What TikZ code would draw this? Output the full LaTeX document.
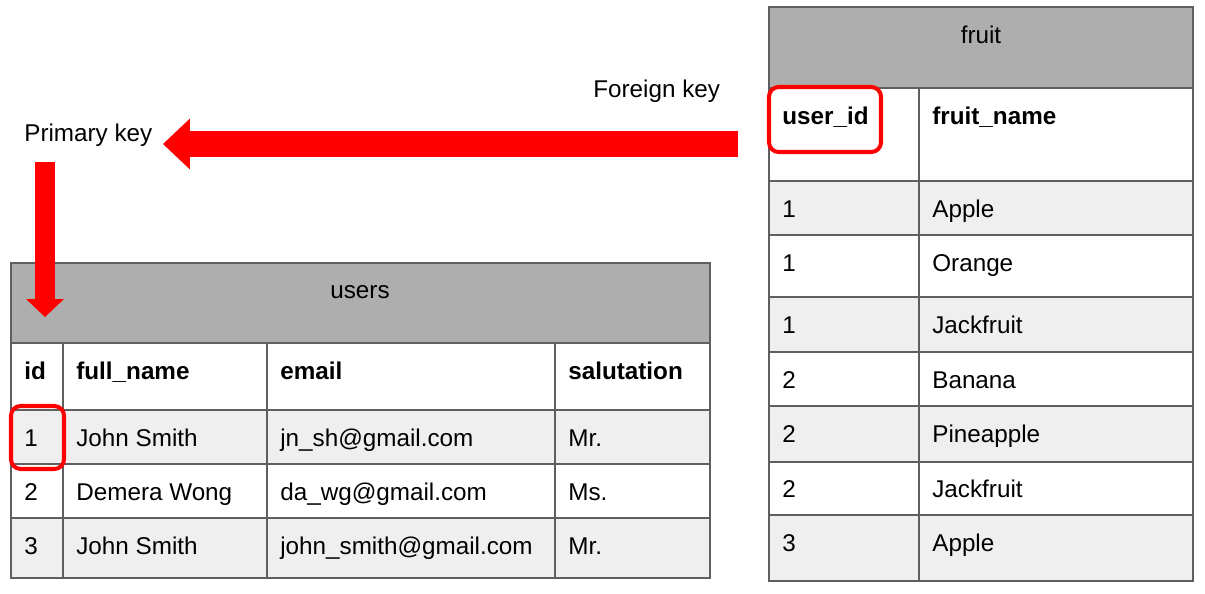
\documentclass[tikz,border=0pt]{standalone}
\usepackage{fontspec}
\setmainfont{Liberation Sans}
\usepackage{tikz}
\usetikzlibrary{arrows.meta,positioning}
\definecolor{hdrgray}{RGB}{174,174,174}
\definecolor{rowgray}{RGB}{239,239,239}
\definecolor{gridgray}{RGB}{95,95,95}
\definecolor{keyred}{RGB}{255,0,0}

\begin{document}
\begin{tikzpicture}[
    x=0.02cm, y=-0.02cm,
    txt/.style={anchor=base west, inner sep=0pt, font=\fontsize{13.8pt}{16pt}\selectfont},
    colhead/.style={txt, font=\fontsize{13.8pt}{16pt}\selectfont\bfseries},
    tabletitle/.style={txt, anchor=base},
    gridline/.style={draw=gridgray, line width=0.9pt},
    keybox/.style={draw=keyred, line width=2.3pt, rounded corners=5.5pt},
    bigarrow/.style={draw=keyred, line width=#1}
]
    \useasboundingbox (0,0) rectangle (1205,593);

    % Users Table
    \fill[hdrgray] (11,263) rectangle (710,343);
    \fill[rowgray] (11,410) rectangle (710,464);
    \fill[rowgray] (11,518) rectangle (710,578);
    \draw[gridline] (11,263) rectangle (710,578);
    \draw[gridline] (11,343) -- (710,343) (11,410) -- (710,410)
                    (11,464) -- (710,464) (11,518) -- (710,518);
    \draw[gridline] (63,343) -- (63,578) (267,343) -- (267,578) (555,343) -- (555,578);

    \node[tabletitle] (usersTitle) at (360,298) {users};
    \node[colhead] (uId) at (24,379) {id};
    \node[colhead] (uName) at (76,379) {full\_name};
    \node[colhead] (uMail) at (280,379) {email};
    \node[colhead] (uSal) at (568,379) {salutation};

    \node[txt] (uId1) at (24,446) {1};
    \node[txt] (uName1) at (76,446) {John Smith};
    \node[txt] (uMail1) at (280,446) {jn\_sh@gmail.com};
    \node[txt] (uSal1) at (568,446) {Mr.};

    \node[txt] (uId2) at (24,500) {2};
    \node[txt] (uName2) at (76,500) {Demera Wong};
    \node[txt] (uMail2) at (280,500) {da\_wg@gmail.com};
    \node[txt] (uSal2) at (568,500) {Ms.};

    \node[txt] (uId3) at (24,554) {3};
    \node[txt] (uName3) at (76,554) {John Smith};
    \node[txt] (uMail3) at (280,554) {john\_smith@gmail.com};
    \node[txt] (uSal3) at (568,554) {Mr.};

    % Fruit Table
    \fill[hdrgray] (769,7) rectangle (1193,88);
    \fill[rowgray] (769,181) rectangle (1193,235);
    \fill[rowgray] (769,297) rectangle (1193,352);
    \fill[rowgray] (769,406) rectangle (1193,462);
    \fill[rowgray] (769,515) rectangle (1193,581);
    \draw[gridline] (769,7) rectangle (1193,581);
    \draw[gridline] (769,88) -- (1193,88) (769,181) -- (1193,181)
                    (769,235) -- (1193,235) (769,297) -- (1193,297)
                    (769,352) -- (1193,352) (769,406) -- (1193,406)
                    (769,462) -- (1193,462) (769,515) -- (1193,515);
    \draw[gridline] (919,88) -- (919,581);

    \node[tabletitle] (fruitTitle) at (981,43) {fruit};
    \node[colhead] (fUser) at (782,124) {user\_id};
    \node[colhead] (fName) at (932,124) {fruit\_name};

    \node[txt] (fUser1) at (782,217) {1};
    \node[txt] (fName1) at (932,217) {Apple};
    \node[txt] (fUser2) at (782,271) {1};
    \node[txt] (fName2) at (932,271) {Orange};
    \node[txt] (fUser3) at (782,333) {1};
    \node[txt] (fName3) at (932,333) {Jackfruit};
    \node[txt] (fUser4) at (782,388) {2};
    \node[txt] (fName4) at (932,388) {Banana};
    \node[txt] (fUser5) at (782,442) {2};
    \node[txt] (fName5) at (932,442) {Pineapple};
    \node[txt] (fUser6) at (782,497) {2};
    \node[txt] (fName6) at (932,497) {Jackfruit};
    \node[txt] (fUser7) at (782,551) {3};
    \node[txt] (fName7) at (932,551) {Apple};

    % Key Highlights
    \draw[keybox] (769,87) rectangle (881,152);
    \draw[keybox] (11,406) rectangle (64,469);

    % Key Labels
    \node[txt] (pkLabel) at (24,141) {Primary key};
    \node[txt] (fkLabel) at (593,97) {Foreign key};

    % Key Arrows
    \coordinate (fkTail) at (738,144);
    \coordinate (pkTip) at (163,144);
    \coordinate (pkDrop) at (45,162);
    \coordinate (idTip) at (45,317);
    \draw[bigarrow=14.8pt, -{Triangle[length=15.3pt, width=28.9pt, line width=0pt, fill=keyred]}] (fkTail) -- (pkTip);
    \draw[bigarrow=11.4pt, -{Triangle[length=10.2pt, width=21.5pt, line width=0pt, fill=keyred]}] (pkDrop) -- (idTip);
\end{tikzpicture}
\end{document}
